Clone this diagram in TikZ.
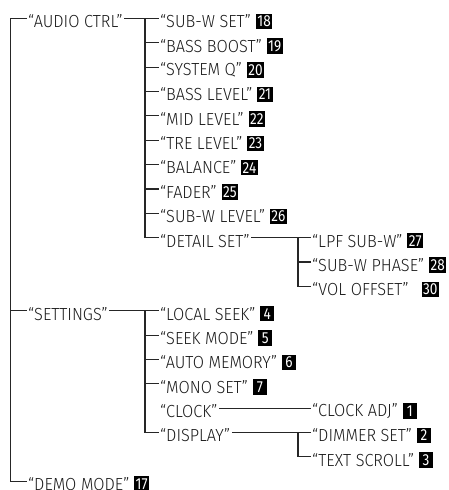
\documentclass[tikz,border=0pt]{standalone}
\usepackage{fontspec}
\setmainfont{Fira Sans Light}[FakeStretch=0.93]
\newfontfamily\badgefont{Fira Sans}[FakeStretch=0.85]
\usetikzlibrary{positioning}
\tikzset{
  lbl/.style={anchor=west, inner xsep=1.5pt, inner ysep=0pt, text=black!90,
    font=\fontsize{17.5}{17.5}\selectfont},
  badge/.style={fill=black, text=white, inner xsep=1.5pt, inner ysep=0pt,
    minimum width=14pt, minimum height=15.5pt, font=\badgefont\fontsize{16}{16}\selectfont},
  conn/.style={line width=1.1pt, draw=black!85},
}
\begin{document}
\begin{tikzpicture}[x=1pt,y=-1pt]
\useasboundingbox (0,0) rectangle (449,490);
% level 1
\node[lbl] (audio) at (26.5,21.5) {“AUDIO CTRL”};
\node[lbl] (settings) at (26.5,313.7) {“SETTINGS”};
\node[lbl] (demo) at (26.5,484.15) {“DEMO MODE”};
\node[badge, right=3pt of demo] (demob) {17};
% level 2 (audio)
\node[lbl] (subwset) at (158.5,21.5) {“SUB-W SET”};
\node[badge, right=3pt of subwset] (subwsetb) {18};
\node[lbl] (bassboost) at (158.5,45.85) {“BASS BOOST”};
\node[badge, right=3pt of bassboost] (bassboostb) {19};
\node[lbl] (systemq) at (158.5,70.2) {“SYSTEM Q”};
\node[badge, right=3pt of systemq] (systemqb) {20};
\node[lbl] (basslevel) at (158.5,94.55) {“BASS LEVEL”};
\node[badge, right=3pt of basslevel] (basslevelb) {21};
\node[lbl] (midlevel) at (158.5,118.9) {“MID LEVEL”};
\node[badge, right=3pt of midlevel] (midlevelb) {22};
\node[lbl] (trelevel) at (158.5,143.25) {“TRE LEVEL”};
\node[badge, right=3pt of trelevel] (trelevelb) {23};
\node[lbl] (balance) at (158.5,167.6) {“BALANCE”};
\node[badge, right=3pt of balance] (balanceb) {24};
\node[lbl] (fader) at (158.5,191.95) {“FADER”};
\node[badge, right=3pt of fader] (faderb) {25};
\node[lbl] (subwlevel) at (158.5,216.3) {“SUB-W LEVEL”};
\node[badge, right=3pt of subwlevel] (subwlevelb) {26};
\node[lbl] (detail) at (158.5,240.65) {“DETAIL SET”};
% level 3 (detail)
\node[lbl] (lpf) at (310.5,240.65) {“LPF SUB-W”};
\node[badge, right=3pt of lpf] (lpfb) {27};
\node[lbl] (phase) at (310.5,265.0) {“SUB-W PHASE”};
\node[badge, right=3pt of phase] (phaseb) {28};
\node[lbl] (vol) at (310.5,289.35) {“VOL OFFSET”};
\node[badge, right=11pt of vol] (volb) {30};
% level 2 (settings)
\node[lbl] (local) at (158.5,313.7) {“LOCAL SEEK”};
\node[badge, right=3pt of local] (localb) {4};
\node[lbl] (seek) at (158.5,338.05) {“SEEK MODE”};
\node[badge, right=3pt of seek] (seekb) {5};
\node[lbl] (automem) at (158.5,362.4) {“AUTO MEMORY”};
\node[badge, right=3pt of automem] (automemb) {6};
\node[lbl] (mono) at (158.5,386.75) {“MONO SET”};
\node[badge, right=3pt of mono] (monob) {7};
\node[lbl] (clock) at (158.5,411.1) {“CLOCK”};
\node[lbl] (display) at (158.5,435.45) {“DISPLAY”};
% level 3 (settings)
\node[lbl] (clockadj) at (310.5,411.1) {“CLOCK ADJ”};
\node[badge, right=3pt of clockadj] (clockadjb) {1};
\node[lbl] (dimmer) at (310.5,435.45) {“DIMMER SET”};
\node[badge, right=3pt of dimmer] (dimmerb) {2};
\node[lbl] (scroll) at (310.5,459.8) {“TEXT SCROLL”};
\node[badge, right=3pt of scroll] (scrollb) {3};
% connectors
\draw[conn] ([yshift=3pt]audio.west) -- ++(-16,0) |- ([yshift=3pt]demo.west);
\draw[conn] ([yshift=3pt]settings.west) -- ++(-16,0);
\draw[conn] ([yshift=3pt]audio.east) -- ([yshift=3pt]subwset.west);
\draw[conn] ([yshift=3pt]subwset.west) ++(-13.5,0) |- ([yshift=3pt]detail.west);
\foreach \n in {bassboost,systemq,basslevel,midlevel,trelevel,balance,fader,subwlevel}
  \draw[conn] ([yshift=3pt]\n.west) -- ++(-13.5,0);
\draw[conn] ([yshift=3pt]detail.east) -- ([yshift=3pt]lpf.west);
\draw[conn] ([yshift=3pt]lpf.west) ++(-12.5,0) |- ([yshift=3pt]vol.west);
\draw[conn] ([yshift=3pt]phase.west) -- ++(-12.5,0);
\draw[conn] ([yshift=3pt]settings.east) -- ([yshift=3pt]local.west);
\draw[conn] ([yshift=3pt]local.west) ++(-13.5,0) |- ([yshift=3pt]display.west);
\foreach \n in {seek,automem,mono}
  \draw[conn] ([yshift=3pt]\n.west) -- ++(-13.5,0);
\draw[conn] ([yshift=3pt]clock.east) -- ([yshift=3pt]clockadj.west);
\draw[conn] ([yshift=3pt]display.east) -- ([yshift=3pt]dimmer.west);
\draw[conn] ([yshift=3pt]dimmer.west) ++(-12.5,0) |- ([yshift=3pt]scroll.west);
\end{tikzpicture}
\end{document}
